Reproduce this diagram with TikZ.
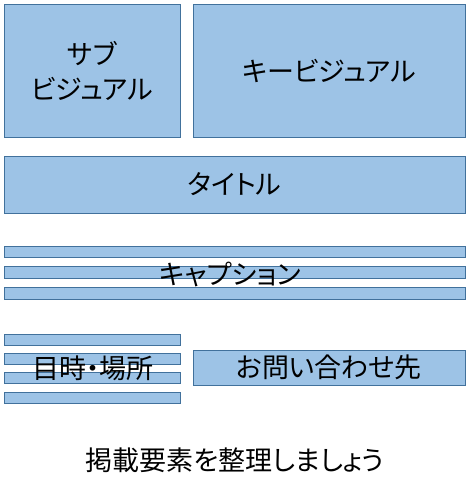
\documentclass[tikz,border=0pt]{standalone}
\usepackage{fontspec}
\setmainfont{Noto Sans CJK JP}[RawFeature=+palt]
\definecolor{panelblue}{HTML}{9DC3E6}
\definecolor{paneledge}{HTML}{41719C}
\tikzset{panel/.style={draw=paneledge, fill=panelblue, line width=1pt, inner sep=0pt}}
\tikzset{label/.style={font=\fontsize{27}{35}\selectfont, align=center, inner sep=0pt}}

\begin{document}
\begin{tikzpicture}[x=1pt, y=-1pt]%{{{
        \useasboundingbox (0,0) rectangle (470,482);

        \node[panel, minimum width=176pt, minimum height=133pt] (Sub) at (92, 70.5) {};
        \node[panel, minimum width=272pt, minimum height=133pt] (Key) at (329, 70.5) {};
        \node[panel, minimum width=461pt, minimum height=57pt] (Title) at (234.5, 184.5) {};
        \node[label] (SubText) at (Sub) {サブ\\ビジュアル};
        \node[label] (KeyText) at (Key) {キービジュアル};
        \node[label] (TitleText) at (Title) {タイトル};

        \node[panel, minimum width=461pt, minimum height=11.5pt] (Ca) at (234.5, 252) {};
        \node[panel, minimum width=461pt, minimum height=11.5pt] (Cb) at (234.5, 272.5) {};
        \node[panel, minimum width=461pt, minimum height=11.5pt] (Cc) at (234.5, 293.5) {};
        \node[label] (CaptionText) at (230, 274) {キャプション};

        \node[panel, minimum width=176pt, minimum height=11pt] (Da) at (92, 339.5) {};
        \node[panel, minimum width=176pt, minimum height=11pt] (Db) at (92, 358.5) {};
        \node[panel, minimum width=176pt, minimum height=11pt] (Dc) at (92, 378) {};
        \node[panel, minimum width=176pt, minimum height=11pt] (Dd) at (92, 397.5) {};
        \node[label] (DateText) at (93, 368) {目時・場所};

        \node[panel, minimum width=272pt, minimum height=35pt] (Contact) at (329, 367.5) {};
        \node[label] (ContactText) at (Contact) {お問い合わせ先};

        \node[label] (Caption) at (235, 460) {掲載要素を整理しましょう};
    \end{tikzpicture}
\end{document}
